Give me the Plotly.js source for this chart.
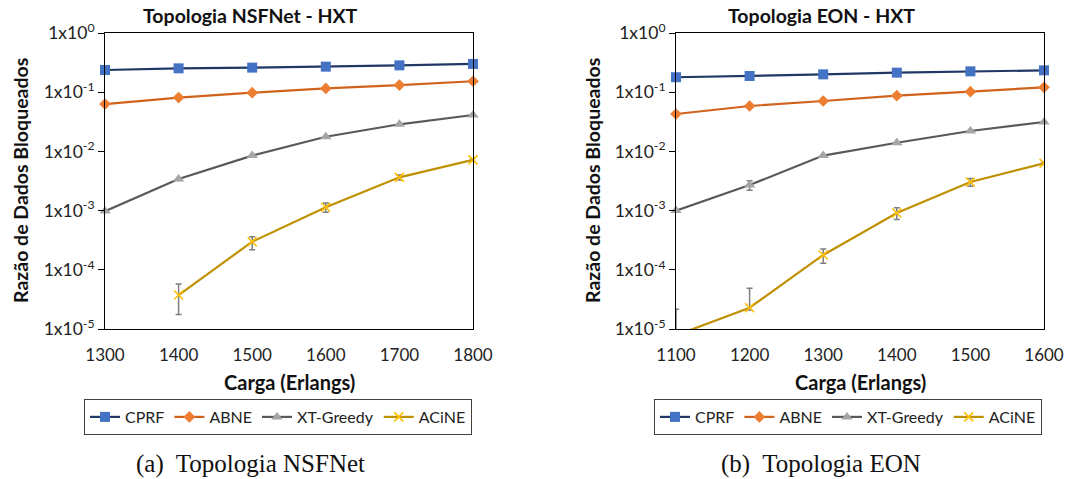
<!DOCTYPE html>
<html>
<head>
<meta charset="utf-8">
<script src="https://cdn.plot.ly/plotly-3.0.1.min.js"></script>
<style>html,body{margin:0;padding:0;background:#fff;}#chart{width:1067px;height:479px;}</style>
</head>
<body>
<div id="chart"></div>
<script>
// ---- data ----
const seriesNames = ["CPRF", "ABNE", "XT-Greedy", "ACiNE"];

const loadNSF = [1300, 1400, 1500, 1600, 1700, 1800];
const cprfNSF  = [0.237, 0.253, 0.260, 0.270, 0.284, 0.300];
const abneNSF  = [0.063, 0.081, 0.098, 0.116, 0.132, 0.153];
const xtNSF    = [0.00098, 0.00342, 0.0085, 0.0177, 0.0287, 0.0412];
const acineNSF = [null, 3.75e-5, 2.98e-4, 1.14e-3, 3.65e-3, 7.2e-3];
const acineNSFErrPlus  = [0, 2.0e-5, 0.65e-4, 0.2e-3, 0.35e-3, 0.3e-3];
const acineNSFErrMinus = [0, 2.0e-5, 0.8e-4, 0.2e-3, 0.35e-3, 0.3e-3];

const loadEON = [1100, 1200, 1300, 1400, 1500, 1600];
const cprfEON  = [0.179, 0.188, 0.200, 0.214, 0.225, 0.234];
const abneEON  = [0.0428, 0.0585, 0.071, 0.0873, 0.102, 0.121];
const xtEON    = [0.00100, 0.0027, 0.0085, 0.0140, 0.0221, 0.0314];
const xtEONErr = [0, 0.5e-3, 0, 0, 0, 0];
const acineEON = [7.8e-6, 2.29e-5, 1.78e-4, 9.1e-4, 3.04e-3, 6.3e-3];
const acineEONErrPlus  = [1.37e-5, 2.57e-5, 0.47e-4, 2.1e-4, 0.45e-3, 0.3e-3];
const acineEONErrMinus = [7.0e-6, 0.2e-5, 0.49e-4, 2.0e-4, 0.45e-3, 0.3e-3];

const yTickVals = [1e-5, 1e-4, 1e-3, 1e-2, 1e-1, 1];
const yTickText = ["1x10<sup>-5</sup>", "1x10<sup>-4</sup>", "1x10<sup>-3</sup>", "1x10<sup>-2</sup>", "1x10<sup>-1</sup>", "1x10<sup>0</sup>"];

const titles = ["Topologia NSFNet - HXT", "Topologia EON - HXT"];
const captions = ["(a)\u00a0 Topologia NSFNet", "(b)\u00a0 Topologia EON"];
const yTitle = "Razão de Dados Bloqueados";
const xTitle = "Carga (Erlangs)";

// ---- styles ----
const lineColors   = ["#1F3864", "#D0631C", "#595959", "#BF9000"];
const markerColors = ["#4472C4", "#ED7D31", "#A5A5A5", "#FFC000"];
const symbols = ["square", "diamond", "triangle-up", "x-thin-open"];
const msizes = [10, 9, 10, 9];
const FONT = "Lato, 'Open Sans', sans-serif";

function mk(i, x, y, xa, ya, leg, err, clip) {
  const t = {
    type: "scatter", mode: "lines+markers", x: x, y: y, name: seriesNames[i],
    xaxis: xa, yaxis: ya, legend: leg, cliponaxis: clip,
    line: {color: lineColors[i], width: 2.2},
    marker: {symbol: symbols[i], size: msizes[i], color: markerColors[i],
             line: {color: markerColors[i], width: i === 3 ? 1.6 : 0}}
  };
  if (err) {
    t.error_y = {type: "data", symmetric: false, array: err[0], arrayminus: err[1],
                 color: "#7F7F7F", thickness: 1.5, width: 3};
  }
  return t;
}

const data = [
  mk(0, loadNSF, cprfNSF, "x", "y", "legend", null, false),
  mk(1, loadNSF, abneNSF, "x", "y", "legend", null, false),
  mk(2, loadNSF, xtNSF, "x", "y", "legend", null, false),
  mk(3, loadNSF, acineNSF, "x", "y", "legend", [acineNSFErrPlus, acineNSFErrMinus], false),
  mk(0, loadEON, cprfEON, "x2", "y2", "legend2", null, false),
  mk(1, loadEON, abneEON, "x2", "y2", "legend2", null, false),
  mk(2, loadEON, xtEON, "x2", "y2", "legend2", [xtEONErr, xtEONErr], false),
  mk(3, loadEON, acineEON, "x2", "y2", "legend2", [acineEONErrPlus, acineEONErrMinus], true)
];

const W = 1067, H = 479;
const px = v => v / W, py = v => 1 - v / H;
const yDom = [py(329), py(33)];

function xax(dom, range, anchor) {
  return {domain: dom, range: range, anchor: anchor, dtick: 100, tick0: 0,
    showline: true, mirror: true, linecolor: "#000", linewidth: 1,
    showgrid: false, zeroline: false, ticks: "", ticklabelstandoff: 11,
    tickfont: {family: FONT, size: 17, color: "#222"}};
}
function yax(anchor) {
  return {domain: yDom, type: "log", range: [-5, 0], anchor: anchor,
    tickvals: yTickVals, ticktext: yTickText,
    showline: true, mirror: true, linecolor: "#000", linewidth: 1,
    showgrid: false, zeroline: false, ticks: "outside", ticklen: 6, tickcolor: "#000",
    tickfont: {family: FONT, size: 17.5, color: "#222"}};
}
function yin(over, anchor) {
  return {domain: yDom, type: "log", range: [-5, 0], overlaying: over, anchor: anchor,
    tickvals: yTickVals, showticklabels: false, ticks: "inside", ticklen: 6, tickcolor: "#000",
    showline: false, showgrid: false, zeroline: false};
}
function leg(xc) {
  return {orientation: "h", x: px(xc), xanchor: "center", y: py(399), yanchor: "top",
    bordercolor: "#404040", borderwidth: 1, bgcolor: "#fff",
    font: {family: FONT, size: 16, color: "#222"}, itemwidth: 30, tracegroupgap: 0};
}

const ann = [];
function addText(text, x, y, size, bold, family, angle) {
  ann.push({text: bold ? "<b>" + text + "</b>" : text, xref: "paper", yref: "paper",
    x: px(x), y: py(y), xanchor: "center", yanchor: "middle", showarrow: false,
    textangle: angle || 0, font: {family: family || FONT, size: size, color: "#111"}});
}
addText(titles[0], 250, 16, 19.5, true);
addText(titles[1], 821, 16, 19.5, true);
addText(yTitle, 20, 181, 19.5, true, null, -90);
addText(yTitle, 592, 181, 19.5, true, null, -90);
addText(xTitle, 289, 382, 20, true);
addText(xTitle, 860, 382, 20, true);
addText(captions[0], 250, 464, 25, false, "'Liberation Serif', 'Times New Roman', serif");
addText(captions[1], 821, 464, 25, false, "'Liberation Serif', 'Times New Roman', serif");

const layout = {
  width: W, height: H, margin: {l: 0, r: 0, t: 0, b: 0},
  paper_bgcolor: "#fff", plot_bgcolor: "#fff", showlegend: true,
  xaxis: xax([px(105), px(473)], [1300, 1800], "y"),
  yaxis: yax("x"),
  xaxis2: xax([px(676), px(1044)], [1100, 1600], "y2"),
  yaxis2: yax("x2"),
  yaxis3: yin("y", "x"),
  yaxis4: yin("y2", "x2"),
  legend: leg(278),
  legend2: leg(848),
  annotations: ann
};

Plotly.newPlot("chart", data, layout, {staticPlot: true, displayModeBar: false});
</script>
</body>
</html>
